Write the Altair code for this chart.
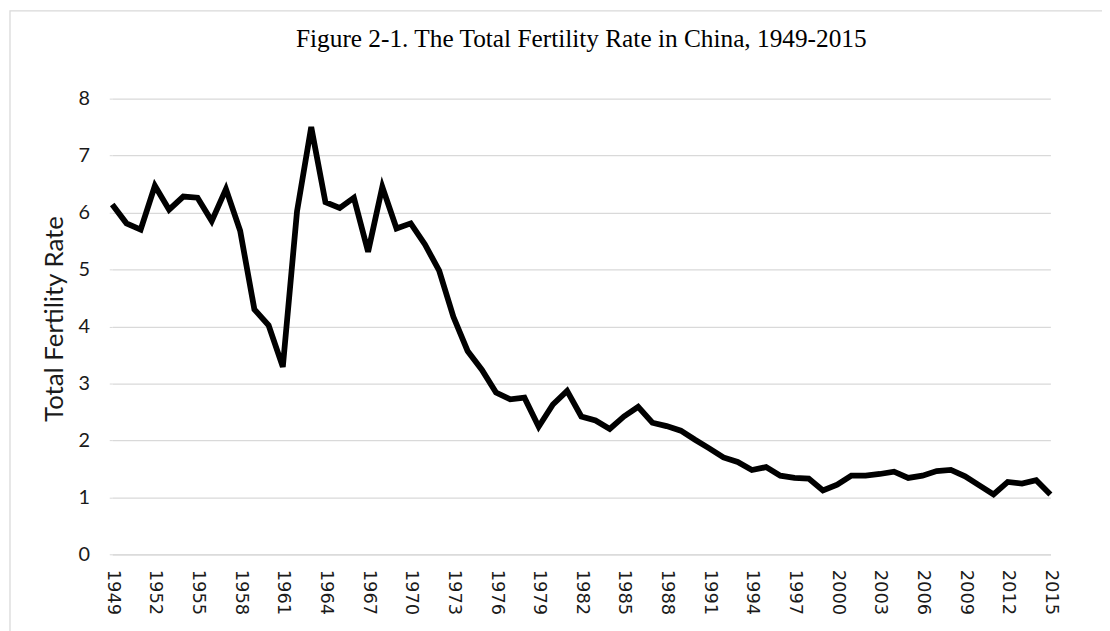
import altair as alt
import pandas as pd

years = list(range(1949, 2016))
tfr = [
    6.14, 5.81, 5.70, 6.47, 6.05, 6.28, 6.26, 5.85, 6.41, 5.68,   # 1949-1958
    4.30, 4.02, 3.29, 6.02, 7.50, 6.18, 6.08, 6.26, 5.31, 6.45,   # 1959-1968
    5.72, 5.81, 5.44, 4.98, 4.17, 3.57, 3.24, 2.84, 2.72, 2.75,   # 1969-1978
    2.24, 2.63, 2.87, 2.42, 2.35, 2.20, 2.42, 2.59, 2.31, 2.25,   # 1979-1988
    2.17, 2.01, 1.86, 1.70, 1.62, 1.48, 1.53, 1.38, 1.34, 1.33,   # 1989-1998
    1.12, 1.22, 1.38, 1.38, 1.41, 1.45, 1.34, 1.38, 1.46, 1.48,   # 1999-2008
    1.37, 1.21, 1.05, 1.27, 1.24, 1.30, 1.05,                     # 2009-2015
]
x_tick_labels = list(range(1949, 2016, 3))
y_ticks = [0, 1, 2, 3, 4, 5, 6, 7, 8]

df = pd.DataFrame({"Year": years, "TFR": tfr})

W, H = 945, 459
PAD_L, PAD_T, PAD_R, PAD_B = 105, 89, 52, 75
GRID = "#d9d9d9"

line = alt.Chart(df).mark_line(color="black", strokeWidth=5.8, strokeJoin="miter", strokeMiterLimit=4).encode(
    x=alt.X("Year:Q",
            scale=alt.Scale(domain=[1949, 2015], nice=False, zero=False),
            axis=alt.Axis(values=x_tick_labels, format="d", labelAngle=90, labelAlign="left",
                          labelBaseline="middle", labelPadding=15, ticks=False, grid=False,
                          domain=True, domainColor=GRID, domainWidth=1.3,
                          labelFont="DejaVu Sans", labelFontSize=18, labelColor="#1a1a1a",
                          title=None)),
    y=alt.Y("TFR:Q",
            scale=alt.Scale(domain=[0, 8], nice=False),
            axis=alt.Axis(values=y_ticks, format="d", ticks=True, tickSize=3, tickColor=GRID,
                          domain=False, grid=True, gridColor=GRID, gridWidth=1.3,
                          labelPadding=20, labelFont="Lato", labelFontSize=20, labelColor="#1a1a1a",
                          title="Total Fertility Rate", titleFont="Lato", titleFontSize=26,
                          titleFontWeight="normal", titleColor="#1a1a1a",
                          titleAngle=-90, titleX=-50, titleY=H / 2 - 8, titleAlign="center",
                          titleBaseline="alphabetic")),
)

frame = alt.Chart(pd.DataFrame({"k": [0]})).mark_rect(
    fill=None, stroke=GRID, strokeWidth=1.3
).encode(
    x=alt.value(-(PAD_L - 2)), x2=alt.value(W + PAD_R + 20),
    y=alt.value(-PAD_T + 0.7), y2=alt.value(H + PAD_B + 20),
)

chart = alt.layer(frame, line).properties(
    width=W, height=H,
    padding={"left": PAD_L, "top": PAD_T, "right": PAD_R, "bottom": PAD_B},
    autosize=alt.AutoSizeParams(type="none"),
    title=alt.TitleParams("Figure 2-1. The Total Fertility Rate in China, 1949-2015",
                          font="Liberation Serif", fontSize=25.5, fontWeight="normal",
                          color="black", anchor="middle", frame="group",
                          baseline="alphabetic", offset=-62),
).configure_view(stroke=None)

chart.save("out.html", embed_options={"renderer": "svg", "actions": False})
